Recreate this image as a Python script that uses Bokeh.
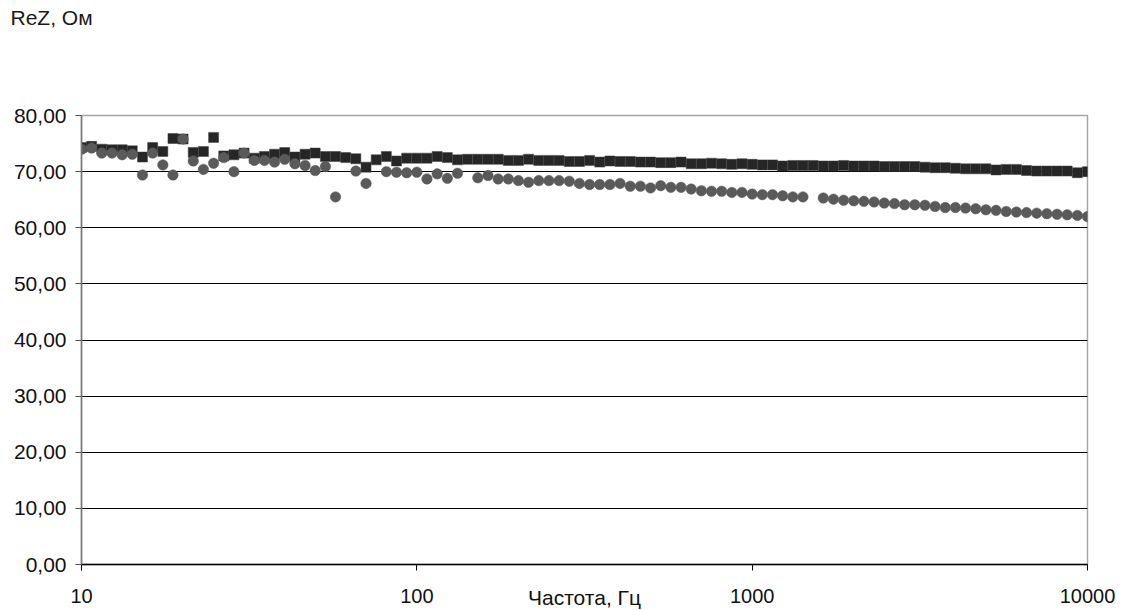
from bokeh.plotting import figure
from bokeh.models import Range1d, FixedTicker, ColumnDataSource, Title
from bokeh.embed import file_html
from bokeh.resources import INLINE

nan = float("nan")

freq_hz = [
    10.0, 10.72, 11.50, 12.33, 13.22, 14.17, 15.20, 16.30, 17.48, 18.74,
    20.09, 21.54, 23.10, 24.77, 26.56, 28.48, 30.54, 32.75, 35.11, 37.65,
    40.37, 43.29, 46.42, 49.77, 53.37, 57.22, 61.36, 65.79, 70.55, 75.65,
    81.11, 86.97, 93.26, 100.0, 107.2, 115.0, 123.3, 132.2, 141.7, 152.0,
    163.0, 174.8, 187.4, 200.9, 215.4, 231.0, 247.7, 265.6, 284.8, 305.4,
    327.5, 351.1, 376.5, 403.7, 432.9, 464.2, 497.7, 533.7, 572.2, 613.6,
    657.9, 705.5, 756.5, 811.1, 869.7, 932.6, 1000, 1072, 1150, 1233,
    1322, 1417, 1520, 1630, 1748, 1874, 2009, 2154, 2310, 2477,
    2656, 2848, 3054, 3275, 3511, 3765, 4037, 4329, 4642, 4977,
    5337, 5722, 6136, 6579, 7055, 7565, 8111, 8697, 9326, 10000,
]

rez_square = [
    74.3, 74.5, 74.0, 73.9, 73.9, 73.7, 72.6, 74.3, 73.6, 75.9,
    75.8, 73.4, 73.6, 76.1, 72.8, 73.0, 73.3, 72.4, 72.7, 73.1,
    73.4, 72.6, 73.1, 73.3, 72.7, 72.7, 72.5, 72.3, 70.8, 72.1,
    72.7, 71.9, 72.4, 72.4, 72.4, 72.7, 72.5, 72.1, 72.2, 72.2,
    72.2, 72.2, 72.0, 72.0, 72.2, 72.0, 72.0, 72.0, 71.8, 71.8,
    72.0, 71.7, 71.9, 71.8, 71.8, 71.7, 71.7, 71.6, 71.6, 71.7,
    71.4, 71.4, 71.5, 71.4, 71.3, 71.4, 71.3, 71.2, 71.2, 71.0,
    71.1, 71.1, 71.1, 71.0, 71.0, 71.1, 71.0, 71.0, 71.0, 70.9,
    70.9, 70.9, 70.9, 70.8, 70.7, 70.7, 70.6, 70.5, 70.5, 70.5,
    70.3, 70.4, 70.4, 70.2, 70.1, 70.1, 70.1, 70.1, 69.8, 70.0,
]

rez_circle = [
    74.0, 74.2, 73.3, 73.3, 73.0, 73.1, 69.4, 73.3, 71.2, 69.4,
    75.8, 71.9, 70.4, 71.5, 72.5, 70.0, 73.3, 72.0, 72.0, 71.7,
    72.2, 71.4, 71.1, 70.2, 70.9, 65.5, nan, 70.1, 67.9, nan,
    70.0, 69.9, 69.8, 69.9, 68.7, 69.6, 68.8, 69.7, nan, 68.9,
    69.3, 68.7, 68.7, 68.4, 68.1, 68.4, 68.4, 68.4, 68.3, 67.9,
    67.7, 67.7, 67.7, 67.9, 67.4, 67.4, 67.1, 67.5, 67.2, 67.2,
    66.9, 66.6, 66.5, 66.5, 66.3, 66.3, 66.0, 65.9, 65.9, 65.7,
    65.5, 65.5, nan, 65.3, 65.1, 64.9, 64.8, 64.7, 64.6, 64.4,
    64.3, 64.1, 64.1, 64.0, 63.8, 63.6, 63.6, 63.5, 63.4, 63.2,
    63.1, 62.9, 62.8, 62.7, 62.6, 62.5, 62.4, 62.3, 62.2, 62.0,
]

x_ticks = [10, 100, 1000, 10000]
x_tick_labels = ["10", "100", "1000", "10000"]
y_ticks = [0, 10, 20, 30, 40, 50, 60, 70, 80]
y_tick_labels = ["0,00", "10,00", "20,00", "30,00", "40,00", "50,00", "60,00", "70,00", "80,00"]

FONT = "Liberation Sans"

p = figure(
    width=1123, height=608,
    frame_width=1006, frame_height=449,
    x_axis_type="log",
    x_range=Range1d(10, 10000), y_range=Range1d(0, 80),
    output_backend="svg", toolbar_location=None,
    min_border_left=81, min_border_right=36, min_border_top=115, min_border_bottom=44,
)
p.background_fill_color = "white"
p.border_fill_color = "white"
p.outline_line_color = "#a6a6a6"
p.outline_line_width = 1.5
p.title.text = ""

# spacer between frame and caption, then the caption itself (further out)
p.add_layout(Title(text=" ", text_font_size="1px", standoff=84), "above")
p.add_layout(Title(text="ReZ, Ом", align="left", offset=-71, standoff=0,
                   text_font=FONT, text_font_size="21px",
                   text_font_style="normal", text_color="#1a1a1a"), "above")

# grid
p.xgrid.visible = False
p.ygrid.ticker = FixedTicker(ticks=y_ticks[1:-1])
p.ygrid.grid_line_color = "#000000"
p.ygrid.grid_line_width = 1

# x axis
p.xaxis.ticker = FixedTicker(ticks=x_ticks)
p.xaxis.major_label_overrides = dict(zip(x_ticks, x_tick_labels))
p.xaxis.minor_tick_line_color = None
p.xaxis.axis_line_color = "#000000"
p.xaxis.axis_line_width = 1.5
p.xaxis.major_tick_line_color = "#000000"
p.xaxis.major_tick_out = 6
p.xaxis.major_tick_in = 0
p.xaxis.major_label_standoff = 18
p.xaxis.major_label_text_font = FONT
p.xaxis.major_label_text_font_size = "20px"
p.xaxis.major_label_text_color = "#111111"
p.xaxis.axis_label = "Частота, Гц"
p.xaxis.axis_label_standoff = -20
p.xaxis.axis_label_text_font = FONT
p.xaxis.axis_label_text_font_size = "21px"
p.xaxis.axis_label_text_font_style = "normal"
p.xaxis.axis_label_text_color = "#111111"

# y axis
p.yaxis.ticker = FixedTicker(ticks=y_ticks)
p.yaxis.major_label_overrides = dict(zip(y_ticks, y_tick_labels))
p.yaxis.minor_tick_line_color = None
p.yaxis.axis_line_color = "#7a7a7a"
p.yaxis.axis_line_width = 1.5
p.yaxis.major_tick_line_color = "#555555"
p.yaxis.major_tick_out = 6
p.yaxis.major_tick_in = 0
p.yaxis.major_label_standoff = 9
p.yaxis.major_label_text_font = FONT
p.yaxis.major_label_text_font_size = "21px"
p.yaxis.major_label_text_color = "#111111"

src = ColumnDataSource(data=dict(f=freq_hz, sq=rez_square, ci=rez_circle))
p.scatter("f", "sq", source=src, marker="square", size=10,
          fill_color="#262626", line_color="#3a3a3a", line_width=0.5)
p.scatter("f", "ci", source=src, marker="circle", size=10.5,
          fill_color="#5a5a5a", line_color="#5a5a5a", line_width=0.5)

open("out.html", "w").write(file_html(p, INLINE))
